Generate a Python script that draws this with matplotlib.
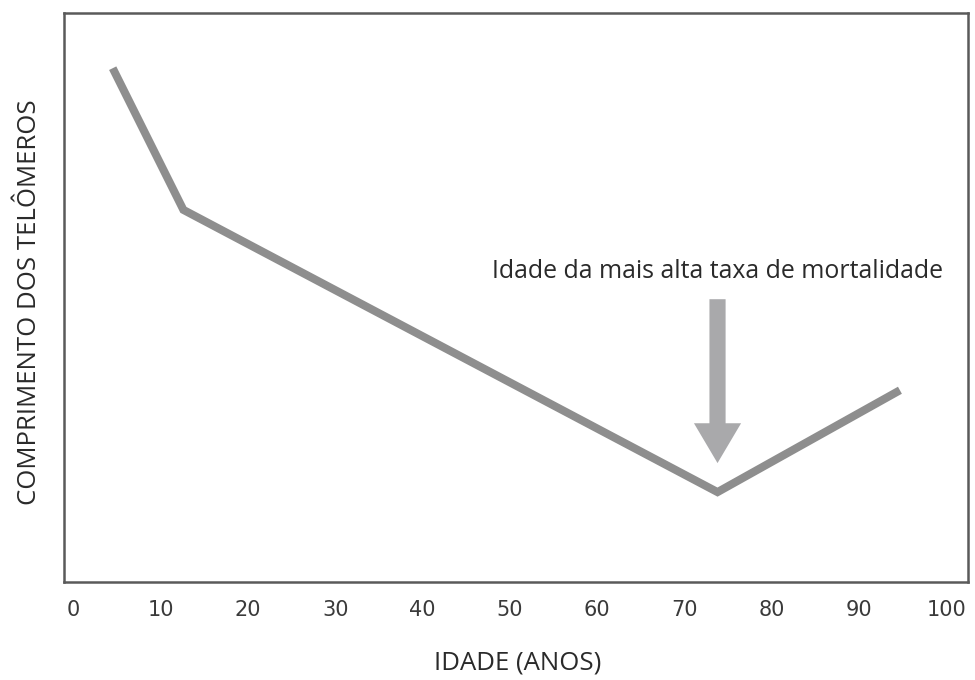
import matplotlib
matplotlib.use("Agg")
import matplotlib.pyplot as plt
import numpy as np

# Data (y is arbitrary telomere length units)
ages = [4.5, 12.6, 73.8, 94.7]
telomere_length = [90.3, 65.4, 15.8, 33.7]
xticks = [0, 10, 20, 30, 40, 50, 60, 70, 80, 90, 100]
xlabel = "IDADE (ANOS)"
ylabel = "COMPRIMENTO DOS TELÔMEROS"
note = "Idade da mais alta taxa de mortalidade"

FONT = ["Open Sans", "DejaVu Sans"]
plt.rcParams["font.family"] = FONT

fig = plt.figure(figsize=(9.75, 6.8), dpi=100)
ax = fig.add_axes([64/975, 1-582/680, (968-64)/975, (582-13)/680])

line_col = "#8e8e8e"
ax.plot(ages, telomere_length, color=line_col, lw=5.8, solid_joinstyle="miter",
        solid_capstyle="butt", zorder=3)

ax.set_xlim(-1.08, 102.5)
ax.set_ylim(0, 100)

# arrow pointing at minimum
i_min = int(np.argmin(telomere_length))
x_min = ages[i_min]
y_min = telomere_length[i_min]
tip = y_min + 5.1
top = y_min + 33.9
ax.arrow(x_min, top, 0, tip - top, width=1.85, head_width=5.4, head_length=7.0,
         length_includes_head=True, color="#a9a9ab", lw=0, zorder=2)
ax.text(x_min, y_min + 38.7, note, ha="center", va="center", fontsize=17.9,
        color="#2a2a2a")

ax.set_xticks(xticks)
ax.set_xticklabels([str(t) for t in xticks], fontsize=15, color="#3a3a3a",
                   family=["DejaVu Sans"])
ax.tick_params(axis="x", length=0, pad=13)
ax.set_yticks([])

for s in ax.spines.values():
    s.set_color("#5a5a5a")
    s.set_linewidth(1.8)

fig.text(518/975, 1-663/680, xlabel, ha="center", va="center", fontsize=18.5,
         color="#2a2a2a")
fig.text(30/975, 1-302/680, ylabel, ha="center", va="center", rotation=90,
         fontsize=18.5, color="#2a2a2a")

fig.savefig("out.png", dpi=100, facecolor="white")
